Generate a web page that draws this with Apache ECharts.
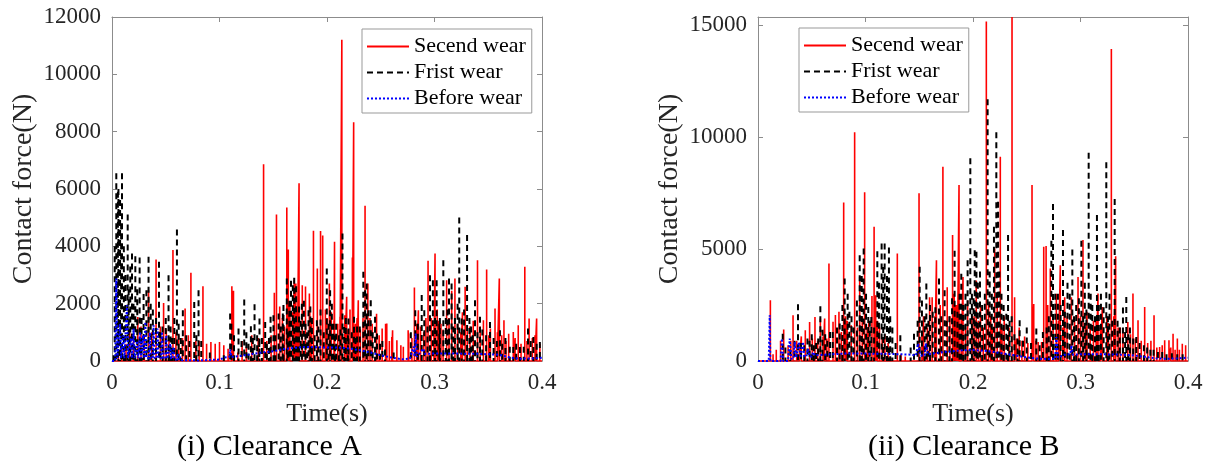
<!DOCTYPE html>
<html><head><meta charset="utf-8">
<script src="https://cdn.jsdelivr.net/npm/echarts@6/dist/echarts.min.js"></script>
<style>html,body{margin:0;padding:0;background:#fff}#c{width:1216px;height:467px}</style>
</head><body><div id="c"></div>
<script>
// ---------- labels ----------
const seriesNames = ['Secend wear', 'Frist wear', 'Before wear'];
const xName = 'Time(s)';
const yName = 'Contact force(N)';
const captions = ['(i) Clearance A', '(ii) Clearance B'];
const xMin = 0, xMax = 0.4, xStep = 0.1;
const yMaxA = 12000, yStepA = 2000;
const yMaxB = 15370, yStepB = 5000;

// ---------- Clearance A : major spikes ----------
const aRedT = [0.006,0.013,0.024,0.030,0.034,0.041,0.045,0.048,0.053,0.0567,0.062,0.068,0.0734,0.078,0.0846,0.088,0.092,0.096,0.100,0.104,0.108,0.1115,0.113,0.117,0.121,0.125,0.130,0.136,0.141,0.144,0.148,0.151,0.153,0.156,0.1626,0.164,0.168,0.171,0.174,0.177,0.180,0.184,0.1874,0.191,0.194,0.196,0.200,0.204,0.207,0.210,0.2138,0.2165,0.2195,0.2236,0.2248,0.228,0.231,0.2354,0.238,0.242,0.246,0.2513,0.2556,0.2603,0.265,0.276,0.2813,0.285,0.290,0.294,0.297,0.3005,0.304,0.308,0.3113,0.316,0.319,0.326,0.3285,0.333,0.340,0.3455,0.3485,0.352,0.3563,0.3603,0.3646,0.369,0.3733,0.3779,0.384,0.388,0.395,0.398];
const aRedV = [300,600,1538,900,2470,3541,1200,2027,800,3868,900,1829,3076,700,2610,600,660,600,660,550,430,2610,2450,300,700,500,900,800,6862,700,900,2377,5114,1900,5359,3891,1700,2700,6198,2645,2600,1900,4543,3227,4532,4380,1500,1700,4159,1300,11207,1600,1100,3611,8330,1500,1100,5417,2700,1300,1200,1130,1305,840,720,960,2563,1770,1000,3495,1500,3751,1400,1100,2819,2450,2877,1700,2586,1200,3518,1420,3192,1130,1829,2877,1420,950,1014,1250,3285,1480,1480,600];
// minor spikes
const aRedMinorT = [0.009,0.0165,0.020,0.027,0.037,0.0505,0.0595,0.0655,0.071,0.081,0.1585,0.1605,0.1655,0.1695,0.1725,0.1836,0.1855,0.1985,0.2022,0.2065,0.2121,0.2183,0.2214,0.2265,0.2291,0.2335,0.240,0.2461,0.2485,0.2545,0.258,0.261,0.2687,0.271,0.2755,0.279,0.2835,0.287,0.292,0.2995,0.3025,0.306,0.3135,0.3215,0.3245,0.3305,0.336,0.3425,0.3505,0.3585,0.3625,0.3665,0.375,0.3805,0.386,0.391,0.3935];
const aRedMinorV = [500,1000,800,1200,1000,1100,1000,800,900,700,1500,1200,2000,2820,1800,2355,1500,1800,2700,1400,1540,2240,1800,1300,2120,1500,1500,1650,900,1300,700,1070,550,500,1070,800,1300,1200,1500,1200,1800,1300,1500,1300,1000,1100,1400,1200,900,1000,900,700,800,600,700,800,900];

const aBlackT = [0.0015,0.004,0.0055,0.0075,0.0093,0.011,0.0146,0.017,0.0186,0.0217,0.0257,0.0294,0.032,0.034,0.038,0.0437,0.047,0.050,0.0526,0.056,0.0604,0.062,0.0659,0.069,0.0765,0.0805,0.083,0.091,0.104,0.1099,0.111,0.1177,0.123,0.127,0.1292,0.1326,0.137,0.1372,0.1425,0.146,0.1502,0.155,0.1589,0.1626,0.165,0.1682,0.1713,0.174,0.1766,0.180,0.1828,0.186,0.1906,0.194,0.1998,0.2029,0.206,0.2085,0.211,0.2144,0.2175,0.220,0.2251,0.228,0.2338,0.2369,0.2407,0.2447,0.2493,0.254,0.262,0.278,0.2821,0.2881,0.2958,0.302,0.305,0.3082,0.312,0.3159,0.319,0.323,0.3253,0.3303,0.334,0.3377,0.3423,0.3516,0.3609,0.366,0.3733,0.3795,0.387,0.392,0.398];
const aBlackV = [200,6547,5900,5615,6547,4000,5114,3300,3751,3650,3611,2340,2470,3635,1800,3460,1200,1500,2994,800,4590,1300,1771,900,2062,2470,700,300,200,1654,1300,1130,2143,600,1215,1980,700,1480,1360,800,1600,1660,1654,2877,2100,2645,2610,1900,2000,1300,1770,1500,1420,1800,3227,2470,1300,1300,900,4450,1500,1480,1540,1200,3110,2700,2120,1540,600,400,300,1000,1770,2300,2994,2819,1500,3518,1800,2700,1500,5009,1480,4392,1200,2120,1540,1360,1070,800,490,490,1130,840,660];
const aBlackMinorT = [0.0025,0.006,0.0085,0.0125,0.0155,0.020,0.0235,0.0275,0.036,0.041,0.045,0.0545,0.058,0.064,0.072,0.0785,0.1135,0.1205,0.125,0.131,0.135,0.1395,0.144,0.1475,0.152,0.157,0.1595,0.1635,0.1665,0.1695,0.1725,0.1755,0.1785,0.1815,0.1845,0.1885,0.192,0.197,0.2015,0.2045,0.2075,0.2125,0.216,0.2195,0.223,0.2265,0.2305,0.2355,0.2385,0.2425,0.2465,0.2515,0.2845,0.2905,0.2935,0.2985,0.3005,0.3045,0.3105,0.3135,0.3175,0.3215,0.3275,0.3325,0.3355,0.340,0.3445,0.348,0.355,0.358,0.363,0.370,0.376,0.383,0.3895,0.395];
const aBlackMinorV = [4000,6000,4800,3000,2500,2000,2500,1500,2000,1500,1000,1200,1500,800,700,900,900,700,1000,800,900,800,600,1540,900,1200,1950,1000,2800,2900,1200,1400,2100,1000,1900,900,1200,1000,1300,2000,900,1100,1190,900,1000,800,1200,2470,1770,1000,960,700,1300,1770,1200,2820,1500,1300,1500,2880,1200,2000,1800,1500,900,1000,1100,900,800,700,600,500,600,500,700,600];

const aBlueT = [0,0.003,0.004,0.005,0.0065,0.0075,0.0085,0.0095,0.0105,0.0115,0.013,0.0139,0.015,0.0165,0.0175,0.0185,0.0195,0.0201,0.021,0.0225,0.0235,0.0245,0.0255,0.0262,0.027,0.0285,0.029,0.030,0.0305,0.031,0.032,0.0345,0.0352,0.036,0.038,0.0387,0.0395,0.0415,0.0424,0.0432,0.0455,0.0465,0.0475,0.0495,0.0505,0.0515,0.0532,0.0542,0.055,0.0565,0.0573,0.058,0.0602,0.061,0.0618,0.0628,0.0635,0.065,0.08,0.1,0.105,0.109,0.110,0.111,0.12,0.13,0.14,0.15,0.16,0.17,0.18,0.19,0.2,0.21,0.22,0.23,0.24,0.25,0.26,0.27,0.277,0.2805,0.2815,0.2825,0.2835,0.287,0.2895,0.291,0.3,0.32,0.34,0.36,0.37,0.38,0.39,0.4];
const aBlueV = [0,0,2877,100,100,1300,100,100,900,100,100,1946,100,100,800,100,100,1130,100,100,700,100,100,1014,100,100,900,100,100,1363,100,100,1000,100,100,1247,100,100,1130,100,100,1014,100,80,900,80,80,610,60,60,490,50,50,256,40,40,140,30,20,50,120,140,400,140,180,240,300,340,420,460,490,480,470,470,440,380,300,200,120,60,80,500,150,955,150,300,430,250,260,260,250,220,120,80,90,110];

// ---------- Clearance B : major spikes ----------
const bRedT = [0.0115,0.021,0.0239,0.028,0.0326,0.036,0.0403,0.044,0.048,0.053,0.058,0.062,0.066,0.0698,0.072,0.0753,0.0797,0.083,0.0867,0.0899,0.0946,0.0992,0.103,0.106,0.108,0.1095,0.113,0.118,0.121,0.1296,0.133,0.137,0.1498,0.154,0.1596,0.162,0.166,0.172,0.176,0.181,0.184,0.187,0.1907,0.195,0.199,0.203,0.207,0.2124,0.2165,0.2202,0.2254,0.229,0.2363,0.2387,0.243,0.248,0.2549,0.2565,0.2606,0.2638,0.2658,0.268,0.2719,0.2775,0.2812,0.2853,0.2915,0.2977,0.3023,0.306,0.312,0.3163,0.3203,0.3287,0.3327,0.337,0.344,0.3488,0.3535,0.3597,0.3684,0.3736,0.3783,0.3823,0.3861,0.3901,0.3947,0.3978];
const bRedV = [2715,900,1402,700,2044,900,1100,1373,1746,1969,1900,1900,4357,1750,2050,2200,7087,1800,1600,10220,3750,7535,1700,2900,5998,2939,1500,1200,800,4804,300,200,7490,2000,2850,2850,4506,8683,3300,5625,2500,7863,3750,2700,2000,3600,2500,15174,2000,5028,9131,2000,15370,2850,1500,1100,7863,2550,850,850,5103,5140,4133,3000,4282,2850,2850,3750,5401,2200,1800,3014,2417,13935,4684,1500,1746,3014,1820,2417,2044,627,925,925,1223,1000,776,700];
const bRedMinorT = [0.014,0.017,0.0305,0.0385,0.0505,0.0555,0.0605,0.064,0.0775,0.0815,0.0925,0.097,0.1015,0.111,0.1155,0.1525,0.1575,0.1645,0.1695,0.1785,0.1825,0.1855,0.189,0.193,0.201,0.205,0.2095,0.2145,0.218,0.2225,0.227,0.2335,0.2405,0.2455,0.251,0.2585,0.2695,0.2745,0.2795,0.2835,0.2875,0.2945,0.300,0.3045,0.309,0.3145,0.3185,0.3245,0.326,0.331,0.335,0.3395,0.3465,0.351,0.3565,0.3625,0.3655,0.371,0.376,0.384,0.388,0.392];
const bRedMinorV = [300,500,900,800,1000,900,1100,1000,1300,2000,1500,2000,1500,1800,1000,1200,1500,2000,2500,2000,3000,2500,2000,1500,2000,1800,1500,2500,1500,3000,1500,1500,1000,900,800,900,2500,2000,1800,1500,2000,1800,2000,1500,1500,1800,1500,2000,1700,2000,1500,1300,1200,1000,900,800,900,600,700,600,500,500];

const bBlackT = [0.023,0.034,0.0372,0.040,0.046,0.050,0.054,0.058,0.0625,0.067,0.076,0.0806,0.0834,0.087,0.0946,0.0983,0.1026,0.1054,0.111,0.115,0.1178,0.1218,0.125,0.1324,0.1451,0.1504,0.1566,0.160,0.1684,0.1736,0.178,0.1829,0.1891,0.193,0.1975,0.2016,0.2032,0.2065,0.2136,0.2175,0.2217,0.2233,0.2265,0.231,0.2326,0.236,0.2434,0.250,0.2589,0.265,0.2729,0.2744,0.279,0.2837,0.2879,0.2924,0.296,0.3008,0.304,0.3076,0.311,0.3153,0.319,0.324,0.327,0.3318,0.3395,0.3426,0.346,0.3519,0.359,0.365,0.372,0.380,0.390];
const bBlackV = [1223,900,2536,800,1000,1200,800,2447,1200,1300,1670,3685,3000,2000,4730,5028,2417,1970,4900,5252,5252,5073,1500,1150,1223,4207,3460,2500,3685,3160,2000,4924,3900,3000,9056,4953,4880,4000,11697,3000,10220,7117,3000,2110,5625,2000,1820,1500,1450,1300,5371,7012,3000,5849,3500,4983,2500,5371,3500,9310,2500,6520,3000,8877,3000,7236,2387,2865,1500,1070,700,500,400,300,300];
const bBlackMinorT = [0.0255,0.030,0.043,0.048,0.052,0.056,0.060,0.0645,0.0695,0.0735,0.0785,0.085,0.089,0.092,0.0965,0.1005,0.104,0.108,0.1125,0.1165,0.120,0.123,0.128,0.142,0.1485,0.1525,0.155,0.1585,0.1625,0.165,0.1705,0.1755,0.1805,0.1855,0.1875,0.191,0.195,0.199,0.2005,0.2045,0.2085,0.211,0.2155,0.2195,0.2245,0.2285,0.234,0.2385,0.2415,0.2465,0.254,0.262,0.2685,0.2705,0.2765,0.2815,0.2855,0.290,0.294,0.2985,0.3025,0.3055,0.3095,0.3135,0.317,0.3215,0.3255,0.3295,0.3345,0.3365,0.3415,0.3445,0.349,0.355,0.362,0.368,0.376,0.385,0.395];
const bBlackMinorV = [600,500,700,900,700,1000,1400,900,1300,1500,2500,2200,1500,2700,3800,3000,1800,1500,3500,4200,3800,2000,800,600,1800,2700,2000,1800,2200,2400,2000,1800,2800,2200,3000,2500,4500,3000,2800,3500,2500,3000,4000,6000,4000,2500,1800,1200,1000,900,800,700,1500,2000,3000,2500,2200,3000,2000,2800,2000,2300,3000,2000,2500,2400,2000,1800,1800,1500,1300,1200,1000,800,600,500,400,350,300];

const bBlueT = [0,0.010,0.0109,0.0115,0.021,0.0223,0.0235,0.028,0.0295,0.031,0.033,0.0341,0.0355,0.037,0.0381,0.0395,0.041,0.0419,0.043,0.045,0.0465,0.048,0.050,0.0512,0.053,0.06,0.08,0.1,0.12,0.14,0.147,0.149,0.151,0.155,0.156,0.158,0.17,0.18,0.19,0.2,0.21,0.22,0.23,0.24,0.25,0.26,0.27,0.2765,0.2775,0.279,0.285,0.2905,0.2915,0.293,0.3,0.32,0.34,0.35,0.36,0.37,0.38,0.39,0.4];
const bBlueV = [0,0,2044,0,0,1000,0,0,1000,100,100,850,150,150,850,150,150,850,200,200,550,200,200,400,250,280,330,330,320,290,250,780,250,250,780,300,380,430,480,490,460,400,320,240,160,110,90,100,1070,150,280,300,700,280,300,300,280,250,180,120,100,120,150];

// ---------- builders (data -> line points) ----------
function pairs(tsA, vsA, tsB, vsB) {
  const p = tsA.map((t, i) => [t, vsA[i]]).concat(tsB.map((t, i) => [t, vsB[i]]));
  return p.sort((a, b) => a[0] - b[0]);
}
function solidSpikes(p) {
  const d = [[xMin, 0]];
  p.forEach(([t, v]) => { d.push([t, 0], [t, v], [t, 0]); });
  d.push([xMax, 0]);
  return d;
}
// dashed spikes are stroked from the peak down so the dash phase follows each peak
function dashSpikes(p) {
  const d = [];
  p.forEach(([t, v]) => { d.push([t, v], [t, 0], [t, '-']); });
  return d;
}
function trace(ts, vs) { return ts.map((t, i) => [t, vs[i]]); }

const FONT = 'Liberation Serif';
const axisCol = '#8c8c8c';
const txtCol = '#262626';

function xAx(grid, top) {
  return {
    type: 'value', gridIndex: grid, position: top ? 'top' : 'bottom',
    min: xMin, max: xMax, interval: xStep,
    name: top ? '' : xName, nameLocation: 'middle', nameGap: 40,
    nameTextStyle: { fontFamily: FONT, fontSize: 26, color: txtCol },
    axisLine: { show: true, onZero: false, lineStyle: { color: axisCol, width: 1 } },
    axisTick: { show: true, inside: true, length: 5, lineStyle: { color: axisCol } },
    axisLabel: { show: !top, margin: 10, fontFamily: FONT, fontSize: 23, color: txtCol,
      formatter: v => String(+v.toFixed(1)) },
    splitLine: { show: false }
  };
}
function yAx(grid, right, max, step, gap) {
  return {
    type: 'value', gridIndex: grid, position: right ? 'right' : 'left',
    min: 0, max: max, interval: step,
    name: right ? '' : yName, nameLocation: 'middle', nameGap: gap,
    nameTextStyle: { fontFamily: FONT, fontSize: 28, color: txtCol },
    axisLine: { show: true, onZero: false, lineStyle: { color: axisCol, width: 1 } },
    axisTick: { show: true, inside: true, length: 5, lineStyle: { color: axisCol } },
    axisLabel: { show: !right, margin: 11, fontFamily: FONT, fontSize: 23, color: txtCol,
      showMaxLabel: max % step === 0, formatter: v => String(v) },
    splitLine: { show: false }
  };
}

const redStyle = { color: '#ff0000', width: 1.6, type: 'solid' };
const blackStyle = { color: '#000000', width: 2, type: [6, 4] };
const blueStyle = { color: '#0000ff', width: 2, type: [2, 2] };

function ser(name, data, ls, xi, yi) {
  return { type: 'line', name, data, xAxisIndex: xi, yAxisIndex: yi,
    symbol: 'none', showSymbol: false, lineStyle: ls, itemStyle: { color: ls.color },
    silent: true, clip: true, animation: false, connectNulls: false };
}

function legendAt(left, top) {
  return {
    data: seriesNames, orient: 'vertical', left, top,
    itemWidth: 42, itemHeight: 14, itemGap: 3,
    padding: [6, 6, 3, 4],
    borderColor: '#999', borderWidth: 1, backgroundColor: '#fff',
    itemStyle: { color: 'rgba(0,0,0,0)', borderWidth: 0, opacity: 0 },
    textStyle: { fontFamily: FONT, fontSize: 22, color: '#000', lineHeight: 23 },
    selectedMode: false
  };
}

const option = {
  animation: false,
  backgroundColor: '#fff',
  textStyle: { fontFamily: FONT },
  grid: [
    { left: 112, top: 17, width: 430, height: 344 },
    { left: 758, top: 17, width: 430, height: 344 }
  ],
  xAxis: [xAx(0, false), xAx(0, true), xAx(1, false), xAx(1, true)],
  yAxis: [yAx(0, false, yMaxA, yStepA, 74), yAx(0, true, yMaxA, yStepA, 0),
          yAx(1, false, yMaxB, yStepB, 74), yAx(1, true, yMaxB, yStepB, 0)],
  legend: [legendAt(362, 29), legendAt(799, 28)],
  series: [
    ser(seriesNames[0], solidSpikes(pairs(aRedT, aRedV, aRedMinorT, aRedMinorV)), redStyle, 0, 0),
    ser(seriesNames[1], dashSpikes(pairs(aBlackT, aBlackV, aBlackMinorT, aBlackMinorV)), blackStyle, 0, 0),
    ser(seriesNames[2], trace(aBlueT, aBlueV), blueStyle, 0, 0),
    ser(seriesNames[0], solidSpikes(pairs(bRedT, bRedV, bRedMinorT, bRedMinorV)), redStyle, 2, 2),
    ser(seriesNames[1], dashSpikes(pairs(bBlackT, bBlackV, bBlackMinorT, bBlackMinorV)), blackStyle, 2, 2),
    ser(seriesNames[2], trace(bBlueT, bBlueV), blueStyle, 2, 2)
  ],
  graphic: [
    { type: 'text', left: 270 - 93, top: 432, style: { text: captions[0], font: '30px "Liberation Serif"', fill: '#000' } },
    { type: 'text', left: 965 - 97, top: 432, style: { text: captions[1], font: '30px "Liberation Serif"', fill: '#000' } }
  ]
};

const chart = echarts.init(document.getElementById('c'), null, { renderer: 'canvas' });
chart.setOption(option);
</script>
</body></html>
